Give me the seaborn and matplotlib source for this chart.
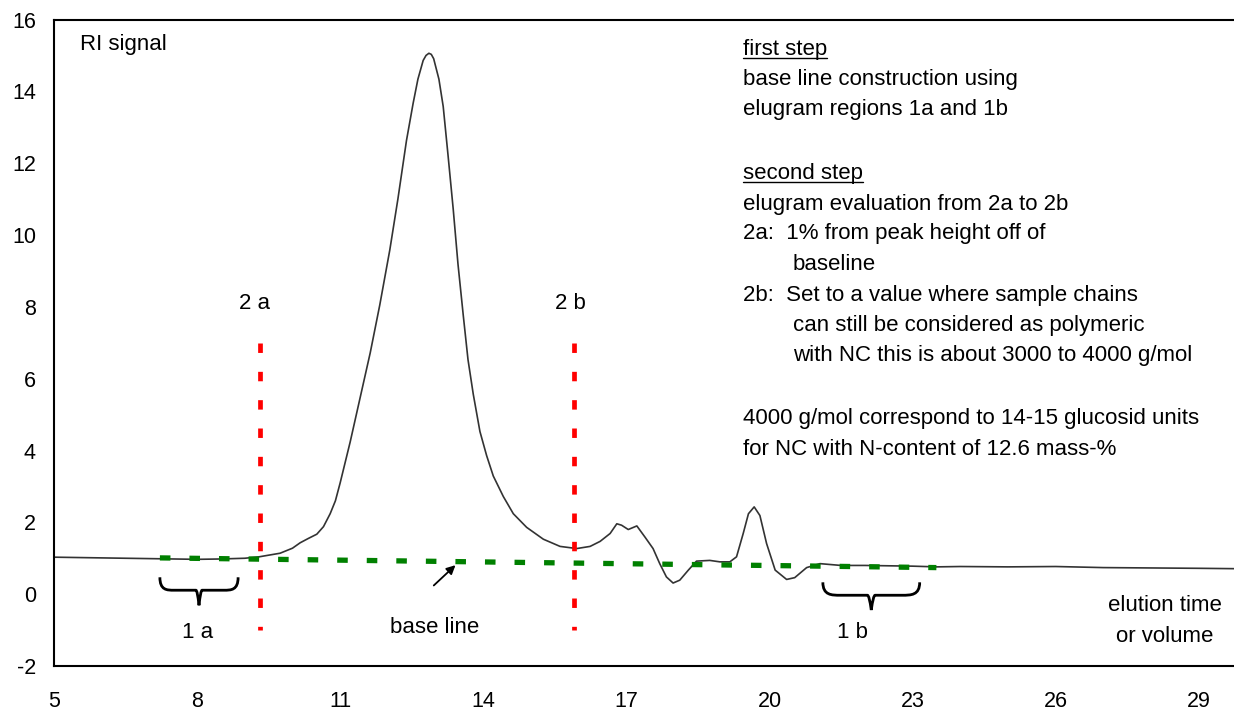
import numpy as np
import pandas as pd
import matplotlib
matplotlib.use("Agg")
import matplotlib.pyplot as plt
import seaborn as sns
from matplotlib.path import Path
from matplotlib.patches import PathPatch
from matplotlib.lines import Line2D

# ---------------- data ----------------
elution_time = [5.0, 5.5, 6.0, 6.5, 7.0, 7.5, 8.0, 8.5, 9.0, 9.3, 9.74, 10.0, 10.16, 10.33,
                10.51, 10.65, 10.79, 10.9, 11.0, 11.21, 11.42, 11.63, 11.83, 12.04, 12.21,
                12.39, 12.53, 12.63, 12.74, 12.80, 12.86, 12.91, 12.96, 13.07, 13.16, 13.26,
                13.37, 13.47, 13.58, 13.68, 13.79, 13.93, 14.07, 14.21, 14.42, 14.63, 14.91,
                15.26, 15.61, 15.96, 16.24, 16.45,
                16.66, 16.8, 16.9, 17.04, 17.22, 17.39, 17.56, 17.7, 17.84, 17.98, 18.12,
                18.3, 18.47, 18.75, 18.96, 19.17, 19.31, 19.45, 19.56, 19.68, 19.8, 19.94,
                20.12, 20.36, 20.53, 20.78, 21.06, 21.5, 22.0, 22.5, 23.0, 23.5, 24.0,
                25.0, 26.0, 27.0, 28.0, 29.0, 29.74]
ri_signal = [1.03, 1.02, 1.01, 1.0, 0.99, 0.98, 0.97, 0.98, 1.0, 1.04, 1.14, 1.28, 1.43, 1.55,
             1.67, 1.88, 2.24, 2.6, 3.10, 4.24, 5.48, 6.72, 8.05, 9.58, 11.0,
             12.63, 13.67, 14.34, 14.86, 15.0, 15.06, 15.03, 14.91, 14.34, 13.58, 12.24,
             10.72, 9.19, 7.77, 6.53, 5.57, 4.53, 3.86, 3.29, 2.72, 2.24, 1.86,
             1.53, 1.33, 1.27, 1.33, 1.47,
             1.69, 1.96, 1.92, 1.8, 1.9, 1.59, 1.27, 0.85, 0.48, 0.31, 0.39,
             0.67, 0.92, 0.94, 0.9, 0.9, 1.04, 1.69, 2.24, 2.43, 2.19, 1.41,
             0.67, 0.41, 0.46, 0.74, 0.85, 0.8, 0.8, 0.79, 0.78, 0.76, 0.77,
             0.76, 0.77, 0.74, 0.73, 0.72, 0.71]

baseline_x = [7.22, 23.5]
baseline_y = [1.01, 0.74]

limit_2a = 9.32
limit_2b = 15.91
limit_ymin, limit_ymax = -1.0, 7.0

brace_1a = (7.22, 8.86, 0.47, 0.11, -0.31)   # x0, x1, top, mid, tip
brace_1b = (21.12, 23.15, 0.33, -0.03, -0.44)

x_ticks = [5, 8, 11, 14, 17, 20, 23, 26, 29]
y_ticks = [-2, 0, 2, 4, 6, 8, 10, 12, 14, 16]

notes = [
    ("first step", 19.44, 15.17, True),
    ("base line construction using", 19.44, 14.33, False),
    ("elugram regions 1a and 1b", 19.44, 13.5, False),
    ("second step", 19.44, 11.72, True),
    ("elugram evaluation from 2a to 2b", 19.44, 10.86, False),
    ("2a:  1% from peak height off of", 19.44, 10.03, False),
    ("baseline", 20.49, 9.17, False),
    ("2b:  Set to a value where sample chains", 19.44, 8.31, False),
    ("can still be considered as polymeric", 20.49, 7.47, False),
    ("with NC this is about 3000 to 4000 g/mol", 20.49, 6.64, False),
    ("4000 g/mol correspond to 14-15 glucosid units", 19.44, 4.89, False),
    ("for NC with N-content of 12.6 mass-%", 19.44, 4.03, False),
]

# ---------------- style ----------------
sns.set_style("white")
plt.rcParams['font.family'] = ['Liberation Sans', 'DejaVu Sans']
plt.rcParams['text.color'] = 'black'
plt.rcParams['xtick.color'] = 'black'
plt.rcParams['ytick.color'] = 'black'
FS = 16
TFS = 15.5

fig = plt.figure(figsize=(12.34, 7.12), dpi=100)
ax = fig.add_axes([0.04376, 0.0646, 0.95624, 0.908])

df = pd.DataFrame({"t": elution_time, "ri": ri_signal})
sns.lineplot(data=df, x="t", y="ri", ax=ax, color="#333333", lw=1.2, sort=False)

bl = pd.DataFrame({"t": baseline_x, "ri": baseline_y})
sns.lineplot(data=bl, x="t", y="ri", ax=ax, color="#008000", lw=3.8, sort=False,
             dashes=False, linestyle=(0, (2.0, 3.6)))

for xl in (limit_2a, limit_2b):
    ax.plot([xl, xl], [limit_ymax, limit_ymin], color="#FF0000", lw=3.4,
            linestyle=(0, (2.0, 4.0)), solid_capstyle='butt', dash_capstyle='butt')


def brace(x0, x1, top, mid, tip):
    xm = (x0 + x1) / 2
    w = (x1 - x0)
    c = 0.09 * w
    verts = [(x0, top), (x0, mid), (x0 + c, mid), (x0 + 2 * c, mid),
             (xm - 0.04 * w, mid), (xm - 0.02 * w, mid), (xm, tip),
             (xm + 0.02 * w, mid), (xm + 0.04 * w, mid),
             (x1 - 2 * c, mid), (x1 - c, mid), (x1, mid), (x1, top)]
    codes = [Path.MOVETO, Path.CURVE4, Path.CURVE4, Path.CURVE4,
             Path.LINETO, Path.CURVE3, Path.CURVE3,
             Path.CURVE3, Path.CURVE3,
             Path.LINETO, Path.CURVE4, Path.CURVE4, Path.CURVE4]
    ax.add_patch(PathPatch(Path(verts, codes), fill=False, lw=2.0, color="black"))


brace(*brace_1a)
brace(*brace_1b)

ax.annotate("", xy=(13.46, 0.86), xytext=(12.92, 0.19),
            arrowprops=dict(arrowstyle='-|>', color='black', lw=1.3, mutation_scale=13))

# labels
ax.text(5.55, 15.3, "RI signal", fontsize=FS, ha='left', va='center')
ax.text(9.21, 8.08, "2 a", fontsize=FS, ha='center', va='center')
ax.text(15.82, 8.08, "2 b", fontsize=FS, ha='center', va='center')
ax.text(8.02, -1.08, "1 a", fontsize=FS, ha='center', va='center')
ax.text(21.75, -1.08, "1 b", fontsize=FS, ha='center', va='center')
ax.text(12.97, -0.94, "base line", fontsize=FS, ha='center', va='center')
ax.text(28.29, -0.32, "elution time", fontsize=FS, ha='center', va='center')
ax.text(28.29, -1.17, "or volume", fontsize=FS, ha='center', va='center')

underlined = []
for txt, x, y, ul in notes:
    t = ax.text(x, y, txt, fontsize=FS, ha='left', va='center')
    if ul:
        underlined.append(t)

# axes
ax.set_xlim(5, 29.74)
ax.set_ylim(-2, 16)
ax.set_xticks(x_ticks)
ax.set_yticks(y_ticks)
ax.set_xticklabels([str(v) for v in x_ticks])
ax.set_yticklabels([str(v) for v in y_ticks])
ax.set_xlabel("")
ax.set_ylabel("")
ax.tick_params(axis='x', direction='in', length=5, width=1.0, pad=18, labelsize=TFS, colors='black')
ax.tick_params(axis='y', direction='in', length=5, width=1.0, pad=13, labelsize=TFS, colors='black')
for s in ('left', 'bottom', 'top'):
    ax.spines[s].set_visible(True)
    ax.spines[s].set_color('black')
    ax.spines[s].set_linewidth(1.5)
ax.spines['right'].set_visible(False)

# underline the step headings
fig.canvas.draw()
r = fig.canvas.get_renderer()
H = fig.bbox.height
for t in underlined:
    bb = t.get_window_extent(renderer=r)
    yline = bb.y0 + 2.0
    fig.add_artist(Line2D([bb.x0 / fig.bbox.width, bb.x1 / fig.bbox.width],
                          [yline / H, yline / H], color='black', lw=1.0))

fig.savefig("out.png", dpi=100)
